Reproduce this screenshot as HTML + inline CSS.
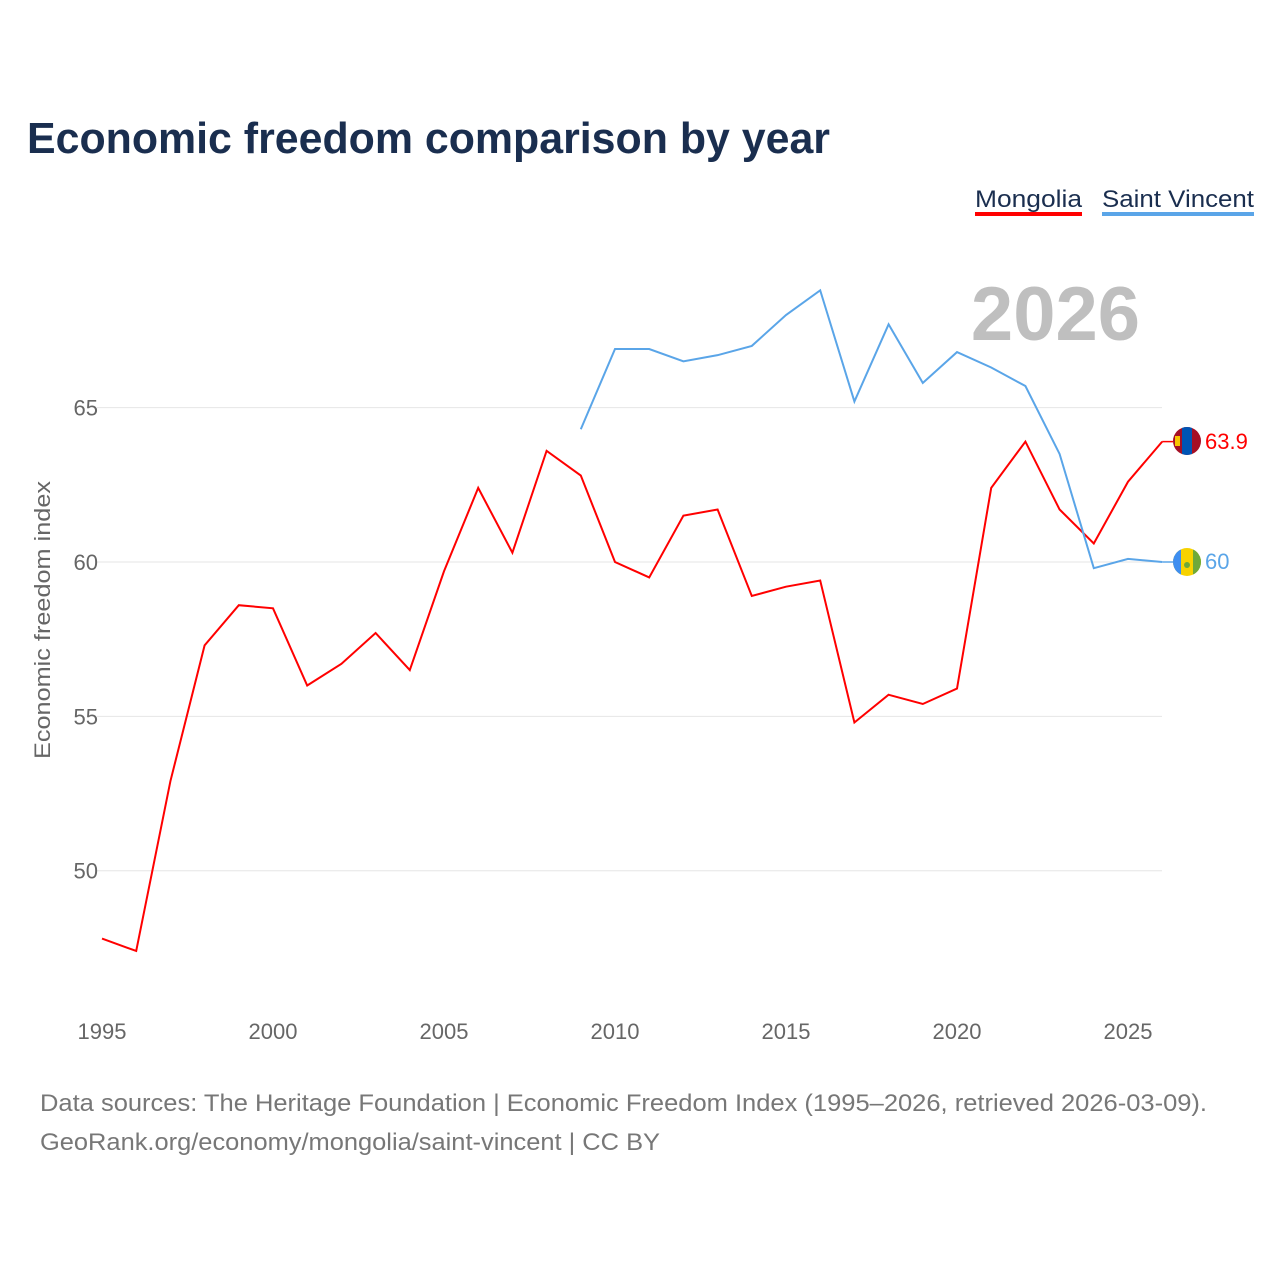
<!DOCTYPE html>
<html><head><meta charset="utf-8"><style>
body{margin:0;background:#fff;font-family:"Liberation Sans",sans-serif;}
svg text{font-family:"Liberation Sans",sans-serif;}
</style></head><body>
<svg id="chart" width="1280" height="1280" xmlns="http://www.w3.org/2000/svg">
<text x="27" y="153" font-size="44" font-weight="bold" fill="#1a2e4f" textLength="803" lengthAdjust="spacingAndGlyphs">Economic freedom comparison by year</text>
<g>
<text x="975" y="207" font-size="24" fill="#1a2e4f" textLength="107" lengthAdjust="spacingAndGlyphs">Mongolia</text>
<rect x="975" y="212" width="107" height="4" fill="#ff0000"/>
<text x="1102" y="207" font-size="24" fill="#1a2e4f" textLength="152" lengthAdjust="spacingAndGlyphs">Saint Vincent</text>
<rect x="1102" y="212" width="152" height="4" fill="#5aa5e8"/>
</g>
<text x="1140" y="340" font-size="76" font-weight="bold" fill="#bfbfbf" text-anchor="end">2026</text>
<text transform="translate(50,620) rotate(-90)" font-size="22" fill="#666" text-anchor="middle" textLength="278" lengthAdjust="spacingAndGlyphs">Economic freedom index</text>
<g id="grid"></g><g id="xticks"></g><g id="lines"></g>
<g>
<clipPath id="c1"><circle cx="1187" cy="441" r="14"/></clipPath>
<g clip-path="url(#c1)"><rect x="1173" y="427" width="28" height="28" fill="#a50f25"/><rect x="1182" y="427" width="10" height="28" fill="#0054b4"/><rect x="1175" y="436" width="5" height="10" fill="#f7c400"/></g>
<text x="1205" y="449" font-size="22" fill="#ff0000">63.9</text>
<clipPath id="c2"><circle cx="1187" cy="562" r="14"/></clipPath>
<g clip-path="url(#c2)"><rect x="1173" y="548" width="28" height="28" fill="#f7d200"/><rect x="1173" y="548" width="8" height="28" fill="#3e8ef0"/><rect x="1193" y="548" width="8" height="28" fill="#6ea93a"/><circle cx="1187" cy="565" r="3" fill="#6ea93a"/></g>
<text x="1205" y="569" font-size="22" fill="#5aa5e8">60</text>
</g>
<text x="40" y="1111" font-size="24" fill="#777" textLength="1167" lengthAdjust="spacingAndGlyphs">Data sources: The Heritage Foundation | Economic Freedom Index (1995–2026, retrieved 2026-03-09).</text>
<text x="40" y="1150" font-size="24" fill="#777" textLength="620" lengthAdjust="spacingAndGlyphs">GeoRank.org/economy/mongolia/saint-vincent | CC BY</text>
</svg>
<script>
const years=[1995,1996,1997,1998,1999,2000,2001,2002,2003,2004,2005,2006,2007,2008,2009,2010,2011,2012,2013,2014,2015,2016,2017,2018,2019,2020,2021,2022,2023,2024,2025,2026];
const mongolia=[47.8,47.4,52.9,57.3,58.6,58.5,56.0,56.7,57.7,56.5,59.7,62.4,60.3,63.6,62.8,60.0,59.5,61.5,61.7,58.9,59.2,59.4,54.8,55.7,55.4,55.9,62.4,63.9,61.7,60.6,62.6,63.9];
const svYears=[2009,2010,2011,2012,2013,2014,2015,2016,2017,2018,2019,2020,2021,2022,2023,2024,2025,2026];
const saintVincent=[64.3,66.9,66.9,66.5,66.7,67.0,68.0,68.8,65.2,67.7,65.8,66.8,66.3,65.7,63.5,59.8,60.1,60.0];
const yTicks=[50,55,60,65];
const xTicks=[1995,2000,2005,2010,2015,2020,2025];
const NS="http://www.w3.org/2000/svg";
const xs=y=>102+(y-1995)*34.2;
const ys=v=>562-(v-60)*30.87;
function mk(tag,attrs,parent){const e=document.createElementNS(NS,tag);for(const k in attrs)e.setAttribute(k,attrs[k]);parent.appendChild(e);return e;}
const grid=document.getElementById('grid');
yTicks.forEach(t=>{
 const l=mk('line',{x1:97,x2:1162,y1:ys(t),y2:ys(t),stroke:'#e6e6e6','stroke-width':1},grid);
 
 
 const tx=mk('text',{x:98,y:ys(t)+8,'font-size':22,fill:'#666','text-anchor':'end'},grid);
 tx.textContent=t;
 
 
});
const xt=document.getElementById('xticks');
xTicks.forEach(t=>{
 const tx=mk('text',{x:xs(t),y:1039,'font-size':22,fill:'#666','text-anchor':'middle'},xt);
 tx.textContent=t;
 
 
});
const lines=document.getElementById('lines');
const p1=mk('polyline',{points:years.map((y,i)=>xs(y)+','+ys(mongolia[i])).join(' '),fill:'none',stroke:'#ff0000','stroke-width':2},lines);


const p2=mk('polyline',{points:svYears.map((y,i)=>xs(y)+','+ys(saintVincent[i])).join(' '),fill:'none',stroke:'#5aa5e8','stroke-width':2},lines);


const c1=mk('line',{x1:xs(2026),x2:1173,y1:ys(mongolia[mongolia.length-1]),y2:ys(mongolia[mongolia.length-1]),stroke:'#ff0000','stroke-width':1.5},lines);


const c2=mk('line',{x1:xs(2026),x2:1173,y1:ys(saintVincent[saintVincent.length-1]),y2:ys(saintVincent[saintVincent.length-1]),stroke:'#5aa5e8','stroke-width':1.5},lines);


</script>
</body></html>
